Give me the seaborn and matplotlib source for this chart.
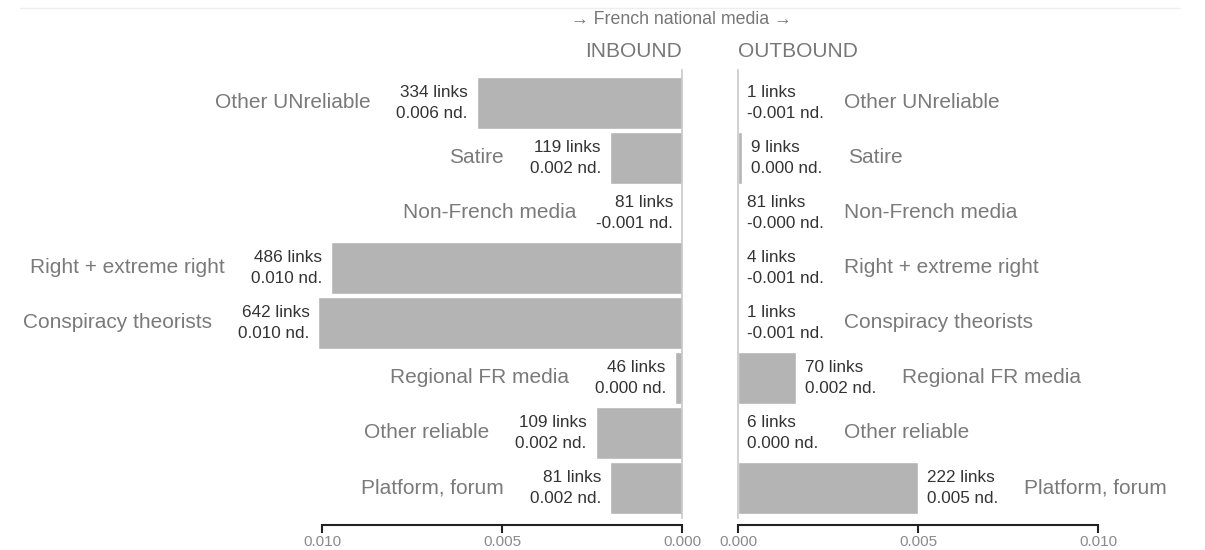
import matplotlib
matplotlib.use("Agg")
import matplotlib.pyplot as plt
import seaborn as sns
import pandas as pd

categories = ["Other UNreliable", "Satire", "Non-French media", "Right + extreme right",
              "Conspiracy theorists", "Regional FR media", "Other reliable", "Platform, forum"]

inbound_links = [334, 119, 81, 486, 642, 46, 109, 81]
inbound_nd = [0.0057, 0.0020, -0.0008, 0.00975, 0.0101, 0.0002, 0.0024, 0.0020]

outbound_links = [1, 9, 81, 4, 1, 70, 6, 222]
outbound_nd = [-0.0008, 0.0001, -0.0002, -0.0008, -0.0008, 0.0016, 0.0, 0.0050]

ticks = [0.0, 0.005, 0.010]

sns.set_theme(style="white")
plt.rcParams["font.family"] = ["Liberation Sans", "DejaVu Sans"]

W, H = 1205, 550
fig = plt.figure(figsize=(W / 100, H / 100), dpi=100)

XMAX = 0.0101
ax_w = XMAX * 36000
top, bottom = 70, 518
ax_in = fig.add_axes([(682 - ax_w) / W, (H - bottom) / H, ax_w / W, (bottom - top) / H])
ax_out = fig.add_axes([738 / W, (H - bottom) / H, ax_w / W, (bottom - top) / H])

bar_color = "#b4b4b4"
cat_color = "#7a7a7a"
ann_color = "#333333"


def draw_panel(ax, values, links, side):
    df = pd.DataFrame({"cat": categories, "val": [max(v, 0) for v in values]})
    sns.barplot(data=df, x="val", y="cat", orient="h", color=bar_color,
                width=0.94, saturation=1, ax=ax)
    ax.set_xlim(XMAX, 0) if side == "in" else ax.set_xlim(0, XMAX)
    ax.set_ylim(7.55, -0.6)
    ax.set_xlabel("")
    ax.set_ylabel("")
    ax.set_yticks([])

    for s in ["top", "left", "right"]:
        ax.spines[s].set_visible(False)
    zero_spine = "right" if side == "in" else "left"
    ax.spines[zero_spine].set_visible(True)
    ax.spines[zero_spine].set_color("#c8c8c8")
    ax.spines[zero_spine].set_linewidth(1.2)

    ax.spines["bottom"].set_position(("outward", 5))
    ax.spines["bottom"].set_bounds(0, 0.010)
    ax.spines["bottom"].set_color("#222222")
    ax.spines["bottom"].set_linewidth(1.5)
    ax.set_xticks(ticks)
    ax.set_xticklabels([f"{t:.3f}" for t in ticks])
    ax.tick_params(axis="x", direction="out", length=6, width=1.5, color="#222222",
                   labelcolor="#8a8a8a", labelsize=11, pad=1, bottom=True)

    sign = -1 if side == "in" else 1
    ha = "right" if side == "in" else "left"
    for i, (v, n) in enumerate(zip(values, links)):
        end = max(v, 0)
        ax.annotate(f"{n} links\n{v:.3f} nd.", xy=(end, i), xytext=(sign * 9, 0),
                    textcoords="offset pixels", ha=ha, va="center", multialignment=ha,
                    fontsize=12.3, color=ann_color, linespacing=1.5, annotation_clip=False)
        ax.annotate(categories[i], xy=(end, i), xytext=(sign * 106, 0),
                    textcoords="offset pixels", ha=ha, va="center",
                    fontsize=15, color=cat_color, annotation_clip=False)


draw_panel(ax_in, inbound_nd, inbound_links, "in")
draw_panel(ax_out, outbound_nd, outbound_links, "out")

fig.text(681 / W, 1 - 20 / H, "\u2192 French national media \u2192", ha="center", va="center",
         fontsize=12.8, color="#777777")
fig.text(682 / W, 1 - 52 / H, "INBOUND", ha="right", va="center", fontsize=15, color="#777777")
fig.text(738 / W, 1 - 52 / H, "OUTBOUND", ha="left", va="center", fontsize=15, color="#777777")
fig.add_artist(plt.Line2D([20 / W, 1180 / W], [1 - 8 / H, 1 - 8 / H], color="#eeeeee", lw=1))

fig.savefig("out.png", dpi=100, facecolor="white")
